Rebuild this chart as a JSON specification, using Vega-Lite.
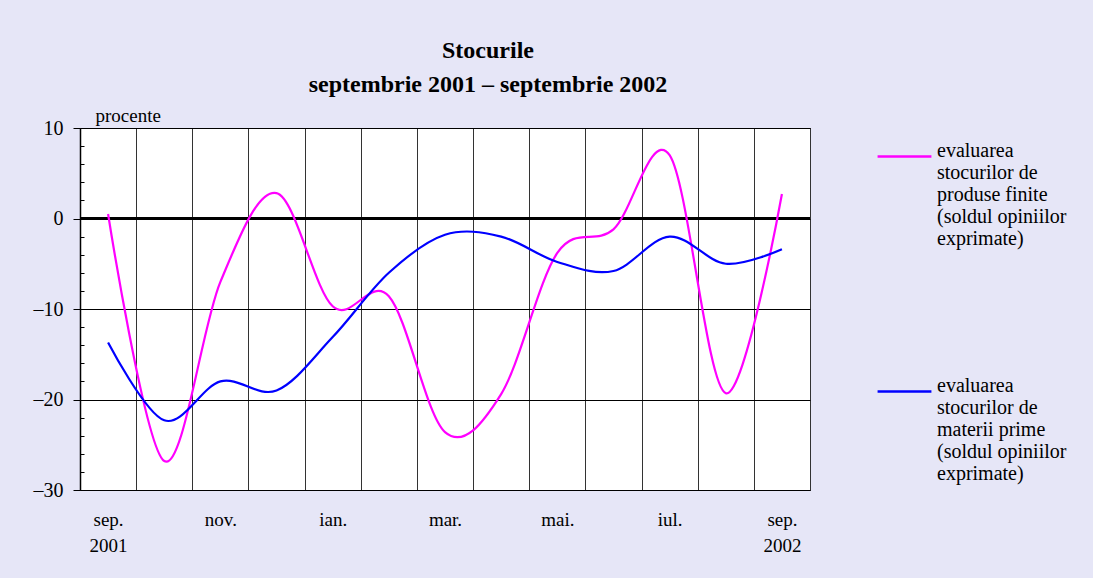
{
  "$schema": "https://vega.github.io/schema/vega-lite/v6.json",
  "width": 730,
  "height": 362,
  "autosize": "none",
  "padding": {"left": 80, "top": 128, "right": 283, "bottom": 88},
  "background": "#e6e6f7",
  "config": {
    "font": "Liberation Serif",
    "view": {"fill": "white", "stroke": "black", "strokeWidth": 1}
  },
  "title": {
    "text": ["Stocurile", "septembrie 2001 – septembrie 2002"],
    "font": "Liberation Serif",
    "fontSize": 24,
    "fontWeight": "bold",
    "lineHeight": 34,
    "anchor": "middle",
    "dx": 43,
    "offset": 9,
    "color": "black"
  },
  "data": {
    "values": [
      {"luna": "sep01", "serie": "finite", "v": 0.5},
      {"luna": "oct01", "serie": "finite", "v": -26.8},
      {"luna": "nov01", "serie": "finite", "v": -7.0},
      {"luna": "dec01", "serie": "finite", "v": 2.8},
      {"luna": "ian02", "serie": "finite", "v": -9.7},
      {"luna": "feb02", "serie": "finite", "v": -8.6},
      {"luna": "mar02", "serie": "finite", "v": -23.6},
      {"luna": "apr02", "serie": "finite", "v": -19.4},
      {"luna": "mai02", "serie": "finite", "v": -3.8},
      {"luna": "iun02", "serie": "finite", "v": -1.2},
      {"luna": "iul02", "serie": "finite", "v": 7.0},
      {"luna": "aug02", "serie": "finite", "v": -19.3},
      {"luna": "sep02", "serie": "finite", "v": 2.7},
      {"luna": "sep01", "serie": "prime", "v": -13.7},
      {"luna": "oct01", "serie": "prime", "v": -22.3},
      {"luna": "nov01", "serie": "prime", "v": -18.0},
      {"luna": "dec01", "serie": "prime", "v": -19.0},
      {"luna": "ian02", "serie": "prime", "v": -13.1},
      {"luna": "feb02", "serie": "prime", "v": -6.0},
      {"luna": "mar02", "serie": "prime", "v": -1.8},
      {"luna": "apr02", "serie": "prime", "v": -2.0},
      {"luna": "mai02", "serie": "prime", "v": -4.8},
      {"luna": "iun02", "serie": "prime", "v": -5.8},
      {"luna": "iul02", "serie": "prime", "v": -2.0},
      {"luna": "aug02", "serie": "prime", "v": -5.0},
      {"luna": "sep02", "serie": "prime", "v": -3.4}
    ]
  },
  "resolve": {"axis": {"y": "independent"}},
  "layer": [
    {
      "mark": {"type": "rule", "color": "black", "strokeWidth": 3},
      "encoding": {
        "y": {
          "datum": 0,
          "type": "quantitative",
          "axis": {
            "orient": "left",
            "offset": -4,
            "values": [-28, -26, -24, -22, -18, -16, -14, -12, -8, -6, -4, -2, 2, 4, 6, 8],
            "title": null,
            "labels": false,
            "domain": false,
            "grid": false,
            "ticks": true,
            "tickSize": 4,
            "tickColor": "black",
            "tickWidth": 1
          }
        }
      }
    },
    {
      "mark": {"type": "line", "interpolate": "cardinal", "strokeWidth": 2.2},
      "encoding": {
        "x": {
          "field": "luna",
          "type": "ordinal",
          "bandPosition": 0.5,
          "scale": {
            "type": "band",
            "paddingInner": 0,
            "paddingOuter": 0,
            "domain": ["sep01", "oct01", "nov01", "dec01", "ian02", "feb02", "mar02", "apr02", "mai02", "iun02", "iul02", "aug02", "sep02"]
          },
          "axis": {
            "title": null,
            "tickBand": "extent",
            "grid": true,
            "gridColor": "#333333",
            "gridWidth": 1,
            "ticks": false,
            "domain": false,
            "labelAngle": 0,
            "labelFontSize": 19,
            "labelColor": "black",
            "labelPadding": 20,
            "labelLineHeight": 26,
            "labelBaseline": "top",
            "labelOverlap": false,
            "labelExpr": "datum.value == 'sep01' ? ['sep.', '2001'] : datum.value == 'sep02' ? ['sep.', '2002'] : datum.value == 'nov01' ? 'nov.' : datum.value == 'ian02' ? 'ian.' : datum.value == 'mar02' ? 'mar.' : datum.value == 'mai02' ? 'mai.' : datum.value == 'iul02' ? 'iul.' : ''"
          }
        },
        "y": {
          "field": "v",
          "type": "quantitative",
          "scale": {"domain": [-30, 10], "nice": false},
          "axis": {
            "orient": "left",
            "values": [-30, -20, -10, 0, 10],
            "title": "procente",
            "titleAngle": 0,
            "titleX": 15,
            "titleY": -3,
            "titleAlign": "left",
            "titleBaseline": "bottom",
            "titleFontSize": 19,
            "titleFontWeight": "normal",
            "titleColor": "black",
            "grid": true,
            "gridColor": "black",
            "gridWidth": 1,
            "domain": true,
            "domainColor": "black",
            "domainWidth": 1.5,
            "tickColor": "black",
            "tickSize": 7,
            "labelFontSize": 20,
            "labelColor": "black",
            "labelPadding": 10,
            "labelOverlap": false,
            "labelBound": false,
            "labelExpr": "replace(datum.label, '−', '–')"
          }
        },
        "color": {
          "field": "serie",
          "type": "nominal",
          "scale": {"domain": ["finite", "prime"], "range": ["#ff00ff", "#0000ff"]},
          "legend": {
            "orient": "none",
            "legendX": 796,
            "legendY": 0,
            "title": null,
            "symbolType": "stroke",
            "symbolSize": 2900,
            "symbolStrokeWidth": 2.5,
            "labelFontSize": 20,
            "labelColor": "black",
            "labelLimit": 0,
            "labelLineHeight": 24,
            "labelBaseline": "alphabetic",
            "labelOffset": 4,
            "rowPadding": 114,
            "labelExpr": "datum.value == 'finite' ? ['evaluarea', 'stocurilor de', 'produse finite', '(soldul opiniilor', 'exprimate)'] : ['evaluarea', 'stocurilor de', 'materii prime', '(soldul opiniilor', 'exprimate)']"
          }
        }
      }
    }
  ]
}
